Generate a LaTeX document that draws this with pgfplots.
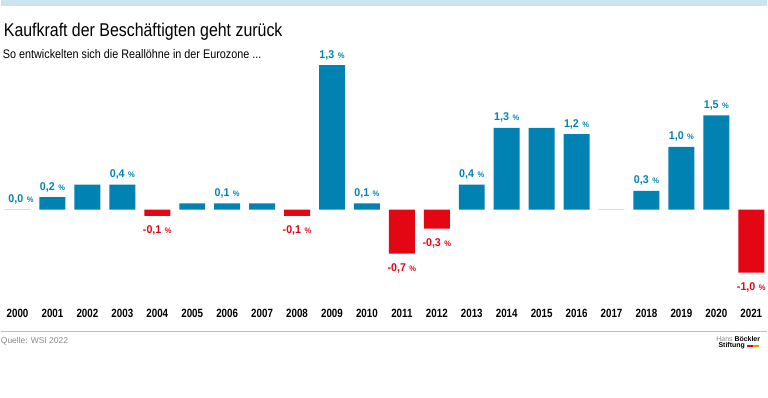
\documentclass[border=0pt]{standalone}
\usepackage{pgfplots}
\pgfplotsset{compat=1.18}
\usepackage{fontspec}
\setmainfont{Liberation Sans}
\newfontfamily\titlefont{Liberation Sans}[FakeStretch=0.86]
\newfontfamily\subfont{Liberation Sans}[FakeStretch=0.87]
\newfontfamily\yearfont{Liberation Sans}[FakeStretch=0.82]
\newfontfamily\labfont{Liberation Sans}[FakeStretch=0.95]
\definecolor{hbsblue}{RGB}{0,131,179}
\definecolor{hbsred}{RGB}{227,6,19}
\definecolor{hbsorange}{RGB}{243,146,0}
\definecolor{band}{RGB}{204,228,238}
\definecolor{zeroline}{RGB}{205,225,235}
\definecolor{footgrey}{RGB}{136,136,136}
\definecolor{rulegrey}{RGB}{192,192,192}
\newcommand{\pct}{\hspace{3.5bp}{\fontsize{8}{8}\selectfont\%}}
\begin{document}
\begin{tikzpicture}
\begin{axis}[
  scale only axis,
  width=768bp, height=398bp,
  xmin=-0.48, xmax=21.457,
  ymin=-2.984, ymax=3.333,
  clip=false,
  axis line style={draw=none},
  major tick length=0pt,
  ytick=\empty,
  xtick={0,...,21},
  xticklabels={2000,2001,2002,2003,2004,2005,2006,2007,2008,2009,2010,2011,2012,2013,2014,2015,2016,2017,2018,2019,2020,2021},
  xticklabel style={anchor=base, yshift=80bp, inner sep=0pt, font=\yearfont\bfseries\fontsize{12}{12}\selectfont},
  /pgf/number format/assume math mode=true,
]
\path (rel axis cs:0,0) rectangle (rel axis cs:1,1);
% bars
\addplot[ybar, bar width=26bp, bar shift=0pt, fill=hbsblue, draw=none]
  coordinates {(1,0.2) (2,0.4) (3,0.4) (5,0.1) (6,0.1) (7,0.1) (9,2.3) (10,0.1)
               (13,0.4) (14,1.3) (15,1.3) (16,1.2) (18,0.3) (19,1.0) (20,1.5)};
\addplot[ybar, bar width=26bp, bar shift=0pt, fill=hbsred, draw=none]
  coordinates {(4,-0.1) (8,-0.1) (11,-0.7) (12,-0.3) (21,-1.0)};
\addplot[ybar, bar width=26bp, bar shift=0pt, fill=none, draw=zeroline, line width=1bp]
  coordinates {(0,0) (17,0)};
% labels
\addplot[draw=none, mark=none, nodes near coords, point meta=explicit symbolic,
  nodes near coords style={anchor=base, yshift=7bp, inner sep=0pt, text=hbsblue,
    font=\labfont\bfseries\fontsize{11.3}{11.3}\selectfont}]
  coordinates {(0.1,0) [{0,0\pct}] (1,0.2) [{0,2\pct}] (3,0.4) [{0,4\pct}] (6,0.1) [{0,1\pct}]
               (9,2.3) [{1,3\pct}] (10,0.1) [{0,1\pct}] (13,0.4) [{0,4\pct}] (14,1.3) [{1,3\pct}]
               (16,1.2) [{1,2\pct}] (18,0.3) [{0,3\pct}] (19,1.0) [{1,0\pct}] (20,1.5) [{1,5\pct}]};
\addplot[draw=none, mark=none, nodes near coords, point meta=explicit symbolic,
  nodes near coords style={anchor=base, yshift=-18bp, inner sep=0pt, text=hbsred,
    font=\labfont\bfseries\fontsize{11.3}{11.3}\selectfont}]
  coordinates {(4,-0.1) [{-0,1\pct}] (8,-0.1) [{-0,1\pct}] (11,-0.7) [{-0,7\pct}]
               (12,-0.3) [{-0,3\pct}] (21,-1.0) [{-1,0\pct}]};
% header
\fill[band] (rel axis cs:0,1) rectangle (rel axis cs:1,0.98492);
\node[anchor=base west, inner sep=0pt, font=\titlefont\fontsize{18.6}{18.6}\selectfont]
  at (rel axis cs:0.0039,0.9095) {Kaufkraft der Beschäftigten geht zurück};
\node[anchor=base west, inner sep=0pt, font=\subfont\fontsize{12.5}{12.5}\selectfont]
  at (rel axis cs:0.0026,0.8535) {So entwickelten sich die Reallöhne in der Eurozone ...};
% footer
\draw[rulegrey, line width=1.5bp] (rel axis cs:0,0.16583) -- (rel axis cs:1,0.16583);
\node[anchor=base west, inner sep=0pt, text=footgrey, font=\fontsize{8.5}{8.5}\selectfont]
  at (rel axis cs:0,0.13568) {Quelle: WSI 2022};
\node[anchor=base east, inner sep=0pt, font=\fontsize{7}{7}\selectfont]
  at (rel axis cs:0.99089,0.14070) {\textcolor{footgrey}{Hans} \textbf{Böckler}};
\node[anchor=base west, inner sep=0pt, font=\bfseries\fontsize{7}{7}\selectfont]
  at (rel axis cs:0.93620,0.12437) {Stiftung};
\fill[hbsred] (rel axis cs:0.97357,0.12563) rectangle (rel axis cs:0.98086,0.13191);
\fill[hbsorange] (rel axis cs:0.98086,0.12563) rectangle (rel axis cs:0.98867,0.13191);
\end{axis}
\end{tikzpicture}
\end{document}
